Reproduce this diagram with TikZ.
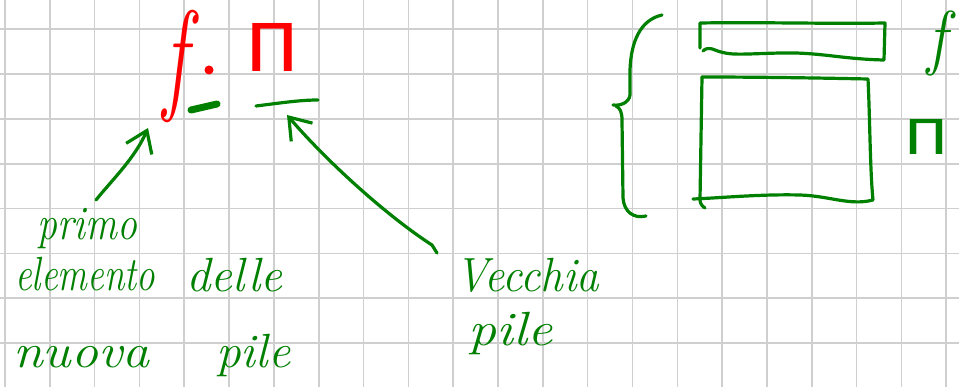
\documentclass[tikz,border=0pt]{standalone}
\usepackage{fontspec}
\usepackage{graphicx}
\usetikzlibrary{arrows.meta}
\newfontfamily\greekfont{Fira Sans}
\definecolor{ink}{HTML}{008000}
\definecolor{redink}{HTML}{FF0000}
\definecolor{gridgray}{HTML}{CFCFCF}
% handwritten word: italic, stretched to a given width
\newcommand{\hand}[2]{\resizebox{#1}{\height}{\fontsize{48}{48}\selectfont\itshape #2}}
% tall italic letter
\newcommand{\bigf}[2]{\scalebox{#1}[#2]{\fontsize{80}{80}\selectfont\itshape f}}
\begin{document}
\begin{tikzpicture}[x=1pt,y=-1pt,
  pen/.style={ink, line width=3.2pt, line cap=round, line join=round},
  word/.style={inner sep=0pt, anchor=base west, text=ink},
  head/.style={-{Straight Barb[length=20pt,width=28pt]}}]
\useasboundingbox (0,0) rectangle (959,387);
\fill[white] (0,0) rectangle (959,387);
% squared paper
\foreach \i in {0,...,21}
  \draw[gridgray, line width=1.6pt] ({5+44.82*\i},0) -- ({5+44.82*\i},387);
\foreach \j in {0,...,7}
  \draw[gridgray, line width=1.6pt] (0,{29.3+44.82*\j}) -- (959,{29.3+44.82*\j});

% red formula f . Pi
\node[inner sep=0pt, anchor=base west, text=redink] (f) at (163,98) {\bigf{1.0}{1.55}};
\node[circle, fill=redink, inner sep=0pt, minimum size=9pt] (dot) at (209,70) {};
\node[inner sep=0pt, anchor=base west, text=redink] (pi) at (244,72)
  {\resizebox{56pt}{48pt}{\greekfont Π}};

% green marks under the formula
\draw[pen, line width=7pt] (191,110) -- (217,104);
\draw[pen] (256,106) .. controls (280,103) and (300,100) .. (318,100);

% arrow to the first element
\coordinate (fmark) at (148,128);
\coordinate (firsttail) at (96,200);
\draw[pen, head] (firsttail) .. controls (112,180) and (135,158) .. (fmark);

% arrow to the old stack
\coordinate (pimark) at (287,115);
\coordinate (oldtail) at (437,253);
\draw[pen, head] (oldtail) -- (432,245) .. controls (390,218) and (330,165) .. (pimark);

% labels
\node[word] (primo) at (37,240) {\hand{100pt}{primo}};
\node[word] (elemento) at (15,291) {\hand{140pt}{elemento}};
\node[word] (delle) at (186,292) {\hand{96pt}{delle}};
\node[word] (nuova) at (13,368) {\hand{136pt}{nuova}};
\node[word] (pile) at (216,368) {\hand{74pt}{pile}};
\node[word] (vecchia) at (455,292) {\hand{144pt}{Vecchia}};
\node[word] (pileb) at (468,346) {\hand{84pt}{pile}};

% brace
\draw[pen] (662,15) .. controls (640,20) and (631,42) .. (630,70) -- (630,95)
  .. controls (629,103) and (620,106) .. (613,105);
\draw[pen] (616,106) .. controls (620,108) and (622,112) .. (622,120) -- (623,198)
  .. controls (624,212) and (634,219) .. (646,216);

% top slot: f
\draw[pen] (700,48) -- (700,23) .. controls (760,22) and (830,24) .. (885,23)
  -- (884,60) .. controls (840,59) and (820,52) .. (780,53)
  .. controls (740,54) and (730,56) .. (715,50) .. controls (708,47) and (705,49) .. (703,51);
% lower block: Pi
\draw[pen] (702,77) .. controls (760,77) and (820,78) .. (868,79)
  .. controls (870,120) and (870,170) .. (873,200)
  .. controls (850,206) and (830,196) .. (800,195)
  .. controls (760,194) and (720,198) .. (693,199);
\draw[pen] (702,77) -- (700,200) .. controls (700,204) and (703,207) .. (705,208);

% labels beside the blocks
\node[inner sep=0pt, anchor=base west, text=ink] (fr) at (927,62) {\bigf{0.8}{0.9}};
\node[inner sep=0pt, anchor=base west, text=ink] (pir) at (903,155)
  {\resizebox{46pt}{35pt}{\greekfont Π}};
\end{tikzpicture}
\end{document}
